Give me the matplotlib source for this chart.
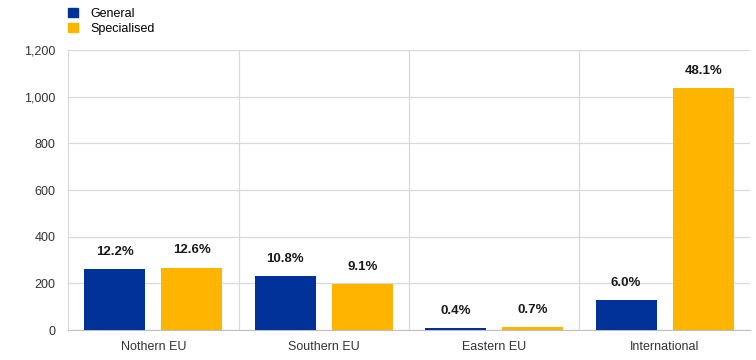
import matplotlib
matplotlib.use("Agg")
import matplotlib.pyplot as plt
import numpy as np
from matplotlib.ticker import FuncFormatter
from matplotlib.patches import Patch

categories = ["Nothern EU", "Southern EU", "Eastern EU", "International"]
general = [260, 231, 9, 128]
specialised = [268, 198, 12, 1038]
general_labels = ["12.2%", "10.8%", "0.4%", "6.0%"]
specialised_labels = ["12.6%", "9.1%", "0.7%", "48.1%"]
yticks = [0, 200, 400, 600, 800, 1000, 1200]

blue = "#003299"
yellow = "#FFB400"
grid = "#d9d9d9"

plt.rcParams['font.family'] = ['Liberation Sans', 'DejaVu Sans']
fig = plt.figure(figsize=(7.56, 3.6), dpi=100)
ax = fig.add_axes([0.09, 0.083, 0.902, 0.778])

x = np.arange(len(categories))
w = 0.358
off = 0.226
ax.bar(x - off, general, w, color=blue, zorder=3)
ax.bar(x + off, specialised, w, color=yellow, zorder=3)
for i in range(len(categories)):
    ax.text(x[i] - off, general[i] + 48, general_labels[i], ha='center', va='bottom',
            fontsize=9.5, fontweight='bold', color='#1a1a1a')
    ax.text(x[i] + off, specialised[i] + 48, specialised_labels[i], ha='center', va='bottom',
            fontsize=9.5, fontweight='bold', color='#1a1a1a')

ax.set_xlim(-0.5, len(categories) - 0.5)
ax.set_ylim(0, 1200)
ax.set_yticks(yticks)
ax.yaxis.set_major_formatter(FuncFormatter(lambda v, p: f"{int(v):,}"))
ax.set_xticks(x)
ax.set_xticklabels(categories)
ax.tick_params(axis='both', length=0, labelsize=9, colors='#333333')
ax.tick_params(axis='y', pad=9)
ax.tick_params(axis='x', pad=8)
ax.grid(axis='y', color=grid, linewidth=0.9, zorder=0)
for b in np.arange(0.5, len(categories) - 0.5, 1):
    ax.axvline(b, color=grid, linewidth=0.9, zorder=0)
for s in ['top', 'right']:
    ax.spines[s].set_visible(False)
ax.spines['left'].set_color(grid)
ax.spines['bottom'].set_color('#bfbfbf')

handles = [Patch(color=blue, label='General'), Patch(color=yellow, label='Specialised')]
fig.legend(handles=handles, loc='upper left', bbox_to_anchor=(0.075, 1.01), frameon=False,
           fontsize=9, handlelength=0.8, handleheight=0.8, handletextpad=1.0, labelspacing=0.25)

fig.savefig("out.png", dpi=100)
